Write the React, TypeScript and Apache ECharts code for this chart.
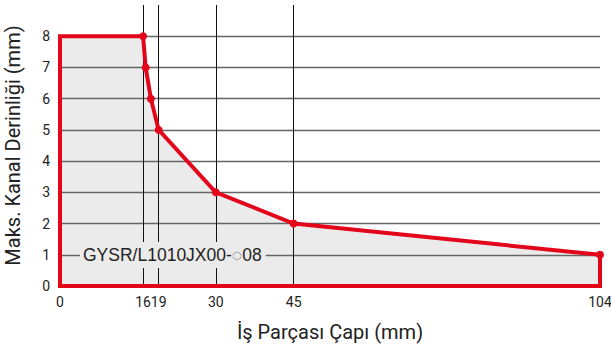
import React, { useEffect, useRef } from "react";
import * as echarts from "echarts";

const xTickValues = [0, 16, 19, 30, 45, 104];
const yTickValues = [0, 1, 2, 3, 4, 5, 6, 7, 8];
// Limit curve (diameter mm -> max groove depth mm)
const curveX = [16, 16.5, 17.5, 19, 30, 45, 104];
const curveY = [8, 7, 6, 5, 3, 2, 1];
// Left/top/bottom/right border of the region
const borderX = [16, 0, 0, 104, 104];
const borderY = [8, 8, 0, 0, 1];
const guideX = [16, 19, 30, 45];
const gridY = [1, 2, 3, 4, 5, 6, 7, 8];
const modelLabel = "GYSR/L1010JX00-\u25CC08";

const RED = "#e3061b";

export default function App() {
  const ref = useRef<HTMLDivElement>(null);
  useEffect(() => {
    if (!ref.current) return;
    const chart = echarts.init(ref.current, undefined, { renderer: "svg" });
    const curve = curveX.map((x, i) => [x, curveY[i]]);
    const fill = [[0, curveY[0]], ...curve];
    const border = borderX.map((x, i) => [x, borderY[i]]);
    chart.setOption({
      animation: false,
      backgroundColor: "#fff",
      grid: { left: 60, right: 11, top: 5, bottom: 67, containLabel: false, outerBoundsMode: "none" },
      xAxis: {
        type: "value",
        min: 0,
        max: 104,
        name: "İş Parçası Çapı (mm)",
        nameLocation: "middle",
        nameGap: 36,
        nameTextStyle: { fontFamily: "Roboto", fontSize: 20, color: "#222" },
        axisLine: { show: false },
        axisTick: { show: false },
        splitLine: { show: false },
        axisLabel: {
          customValues: xTickValues,
          fontFamily: "Roboto",
          fontSize: 14,
          color: "#222",
          margin: 9,
        },
      },
      yAxis: {
        type: "value",
        min: 0,
        max: 9,
        interval: 1,
        name: "Maks. Kanal Derinliği (mm)",
        nameLocation: "middle",
        nameGap: 37,
        nameTextStyle: { fontFamily: "Roboto", fontSize: 20, color: "#222" },
        axisLine: { show: false },
        axisTick: { show: false },
        splitLine: { show: false },
        axisLabel: {
          fontFamily: "Roboto",
          fontSize: 14,
          color: "#222",
          margin: 10,
          formatter: (v: number) => (yTickValues.includes(v) ? String(v) : ""),
        },
      },
      series: [
        {
          type: "line",
          data: fill,
          symbol: "none",
          lineStyle: { width: 0, opacity: 0 },
          areaStyle: { color: "#ebebeb", opacity: 1 },
          z: 1,
          silent: true,
          markLine: {
            silent: true,
            symbol: ["none", "none"],
            label: { show: false },
            emphasis: { disabled: true },
            data: [
              ...gridY.map((v) => ({ yAxis: v, lineStyle: { color: "#666", width: 1.3, type: "solid" } })),
              ...guideX.map((v) => ({ xAxis: v, lineStyle: { color: "#111", width: 1, type: "solid" } })),
            ],
          },
        },
        {
          type: "line",
          data: border,
          symbol: "none",
          clip: false,
          z: 10,
          silent: true,
          lineStyle: { color: RED, width: 4, join: "miter", cap: "square" },
        },
        {
          type: "line",
          data: curve,
          symbol: "circle",
          symbolSize: 8,
          clip: false,
          z: 11,
          silent: true,
          itemStyle: { color: RED },
          lineStyle: { color: RED, width: 4, join: "miter" },
        },
      ],
      graphic: [
        {
          type: "text",
          left: 80,
          top: 242,
          z: 100,
          style: {
            text: modelLabel,
            font: '17.5px "Liberation Sans", Arial, sans-serif',
            fill: "#222",
            backgroundColor: "#ebebeb",
            padding: [4, 4, 4, 3],
          },
        },
      ],
    });
    return () => chart.dispose();
  }, []);
  return (
    <div
      ref={ref}
      style={{ position: "fixed", left: 0, top: 0, width: 611, height: 353, background: "#fff" }}
    />
  );
}
